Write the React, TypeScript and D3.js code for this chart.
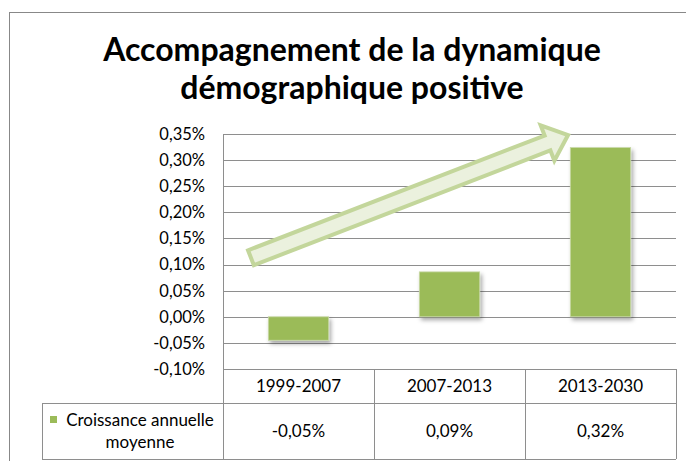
import React from "react";
import * as d3 from "d3";

const categories = ["1999-2007", "2007-2013", "2013-2030"];
const values = [-0.00045, 0.00086, 0.00324];
const tableLabels = ["-0,05%", "0,09%", "0,32%"];
const yTicks = [-0.001, -0.0005, 0, 0.0005, 0.001, 0.0015, 0.002, 0.0025, 0.003, 0.0035];
const titleLines = ["Accompagnement de la dynamique", "démographique positive"];
const seriesName = ["Croissance annuelle", "moyenne"];

const W = 686;
const H = 461;
const FONT = "Lato, 'Open Sans', sans-serif";

const locale = d3.formatLocale({
  decimal: ",",
  thousands: " ",
  grouping: [3],
  currency: ["", "€"],
  minus: "-",
});
const fmt = locale.format(".2%");

export default function App() {
  const plotLeft = 223;
  const plotRight = 676;
  const plotTop = 134;
  const plotBottom = 369;
  const rowMid = 403;
  const tableBottom = 459;
  const legendLeft = 42;

  const x = d3.scaleBand<string>().domain(categories).range([plotLeft, plotRight]).padding(0);
  const y = d3.scaleLinear().domain([-0.001, 0.0035]).range([plotBottom, plotTop]);
  const bw = x.bandwidth();
  const barW = bw * 0.4;

  // Annotation arrow, anchored in data space
  const tail: [number, number] = [(x(categories[0]) as number) + bw * 0.185, y(0.00113)];
  const tip: [number, number] = [(x(categories[2]) as number) + bw * 0.285, y(0.00348)];
  const dx = tip[0] - tail[0];
  const dy = tip[1] - tail[1];
  const len = Math.hypot(dx, dy);
  const u = [dx / len, dy / len];
  const n = [-u[1], u[0]];
  const shaftHalf = 8;
  const headHalf = 19;
  const headLen = 22;
  const base = [tip[0] - u[0] * headLen, tip[1] - u[1] * headLen];
  const pt = (p: number[], s: number) => [p[0] + n[0] * s, p[1] + n[1] * s];
  const arrowPts = [
    pt(tail, -shaftHalf),
    pt(base, -shaftHalf),
    pt(base, -headHalf),
    tip,
    pt(base, headHalf),
    pt(base, shaftHalf),
    pt(tail, shaftHalf),
  ];
  const arrowPath = d3.line()(arrowPts as [number, number][]) + "Z";

  const gridColor = "#8e8e8e";

  return (
    <svg width={W} height={H} style={{ position: "absolute", left: 0, top: 0, background: "#fff" }}>
      <defs>
        <filter id="shadow" x="-20%" y="-20%" width="150%" height="150%">
          <feDropShadow dx="2" dy="3" stdDeviation="2" floodColor="#000" floodOpacity="0.35" />
        </filter>
      </defs>
      <rect x={0} y={0} width={W} height={H} fill="#fff" />
      {/* chart frame */}
      <rect x={9.5} y={12.5} width={W + 20} height={H + 20} fill="none" stroke="#888" strokeWidth={1} />

      {/* title */}
      <g fontFamily={FONT} fontWeight="bold" fontSize={32} textAnchor="middle" fill="#000">
        <text x={352} y={61}>{titleLines[0]}</text>
        <text x={352} y={99}>{titleLines[1]}</text>
      </g>

      {/* gridlines */}
      <g stroke={gridColor} strokeWidth={1}>
        {yTicks.map((t) => (
          <line key={t} x1={plotLeft} x2={plotRight} y1={Math.round(y(t)) + 0.5} y2={Math.round(y(t)) + 0.5} />
        ))}
        <line x1={plotLeft + 0.5} x2={plotLeft + 0.5} y1={Math.round(plotTop) + 0.5} y2={tableBottom} />
      </g>

      {/* y tick labels */}
      <g fontFamily={FONT} fontSize={16.5} textAnchor="end" fill="#000">
        {yTicks.map((t) => (
          <text key={t} x={205} y={y(t)} dy="0.36em">{fmt(t)}</text>
        ))}
      </g>

      {/* bars */}
      <g filter="url(#shadow)">
        {values.map((v, i) => {
          const cx = (x(categories[i]) as number) + bw / 2;
          const y0 = y(0);
          const y1 = y(v);
          return (
            <rect
              key={categories[i]}
              x={cx - barW / 2}
              y={Math.min(y0, y1)}
              width={barW}
              height={Math.abs(y1 - y0)}
              fill="#9bbb59"
              stroke="#c9d9a8"
              strokeWidth={0.8}
            />
          );
        })}
      </g>

      {/* arrow annotation */}
      <path d={arrowPath} fill="#ebf1de" stroke="#c3d69b" strokeWidth={4} strokeLinejoin="miter" />

      {/* data table */}
      <g stroke={gridColor} strokeWidth={1} fill="none">
        {categories.map((c) => (
          <line key={c} x1={Math.round((x(c) as number) + bw) + 0.5} x2={Math.round((x(c) as number) + bw) + 0.5} y1={plotBottom} y2={tableBottom} />
        ))}
        <line x1={legendLeft} x2={plotRight} y1={rowMid + 0.5} y2={rowMid + 0.5} />
        <line x1={legendLeft} x2={plotRight} y1={tableBottom + 0.5} y2={tableBottom + 0.5} />
        <line x1={legendLeft + 0.5} x2={legendLeft + 0.5} y1={rowMid} y2={tableBottom} />
      </g>
      <g fontFamily={FONT} fontSize={17} textAnchor="middle" fill="#000">
        {categories.map((c) => (
          <text key={c} x={(x(c) as number) + bw / 2} y={(plotBottom + rowMid) / 2} dy="0.36em">{c}</text>
        ))}
        {tableLabels.map((l, i) => (
          <text key={l} x={(x(categories[i]) as number) + bw / 2} y={(rowMid + tableBottom) / 2} dy="0.36em">{l}</text>
        ))}
      </g>
      {/* legend key in table */}
      <rect x={50} y={416} width={7} height={7} fill="#9bbb59" />
      <g fontFamily={FONT} fontSize={17} fill="#000" textAnchor="middle">
        <text x={140} y={426}>{seriesName[0]}</text>
        <text x={140} y={448}>{seriesName[1]}</text>
      </g>
    </svg>
  );
}
